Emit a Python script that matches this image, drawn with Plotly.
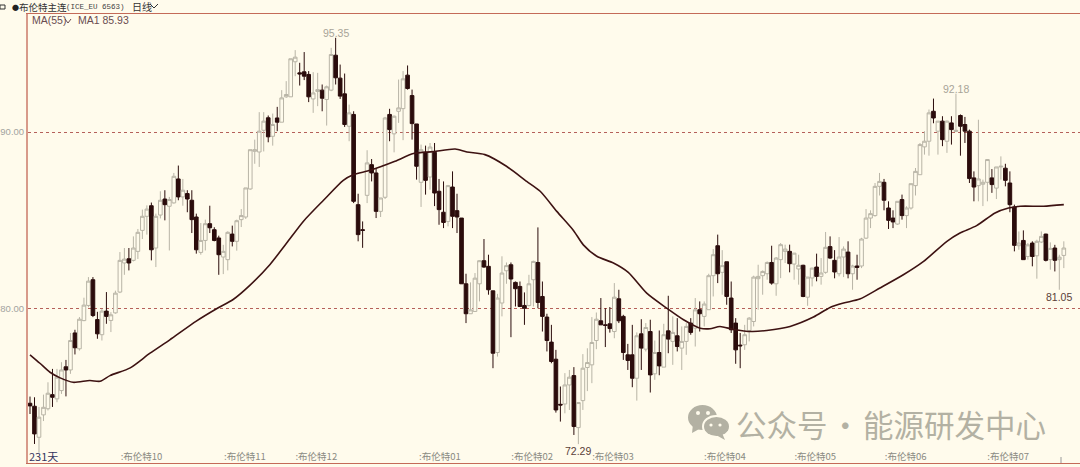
import plotly.graph_objects as go

open_ = [74.61,74.44,72.68,73.95,74.3,75.1,74.86,75.33,76.68,76.5,
78.6,77.7,79.3,80.16,81.62,79.36,78.5,79.84,79.31,79.74,
80.92,82.57,82.81,82.72,83.23,84.42,85.22,85.82,83.42,85.29,
86.2,85.79,85.98,87.34,86.32,86.51,86.13,85.18,83.17,83.85,
84.8,84.46,83.99,82.91,82.76,84.21,83.8,85.03,85.18,86.77,
88.91,88.87,90.1,90.81,89.76,90.8,90.56,92.0,92.0,93.99,
93.36,93.42,93.27,91.88,92.3,92.38,91.85,92.38,94.36,93.06,
92.17,90.33,91.0,85.88,84.46,86.41,88.15,87.68,85.5,86.3,
91.0,89.9,91.18,91.33,93.23,92.07,90.46,87.15,88.85,87.45,
88.85,86.64,85.45,84.93,86.88,85.54,85.12,81.39,79.69,79.82,
81.39,82.7,82.38,80.99,77.49,80.3,82.13,82.47,81.47,81.24,
80.16,80.16,81.62,82.6,80.67,79.5,78.08,77.11,74.55,74.57,
75.65,76.18,73.23,74.76,76.64,76.79,78.17,79.29,79.06,79.12,
78.68,80.54,79.54,77.36,77.36,76.03,78.55,77.68,78.68,76.28,
77.49,76.66,78.72,78.12,78.44,77.74,78.12,79.16,78.87,79.92,
79.54,79.92,81.85,83.55,82.04,82.64,80.58,79.16,77.91,77.93,
78.74,79.25,81.68,81.85,81.96,82.6,81.39,82.76,83.23,83.23,
82.51,82.23,82.44,80.63,81.72,82.34,81.81,82.04,83.5,82.72,
81.96,82.91,83.19,81.96,82.4,82.4,83.98,85.12,85.26,86.92,
87.15,85.69,85.12,84.78,86.17,85.26,85.69,86.96,87.58,89.16,
89.48,91.18,90.05,90.62,89.48,90.52,90.03,90.94,90.43,90.05,
87.4,86.96,87.04,87.15,87.4,86.82,88.02,87.95,87.11,85.75,
83.55,83.85,82.94,83.7,82.98,83.76,84.21,82.76,83.42,82.76,83.0]

high = [74.99,74.95,74.4,75.1,75.8,76.56,76.56,76.94,77.07,78.6,
78.78,79.5,80.6,81.77,81.77,79.8,79.97,80.92,79.78,81.0,
83.19,83.42,83.42,84.08,84.5,85.6,85.84,86.0,85.37,86.64,
86.7,86.32,87.68,88.1,87.34,86.7,86.7,85.37,84.84,85.03,
85.82,84.6,84.12,83.6,84.37,84.69,85.03,85.63,86.83,89.0,
89.57,91.13,91.13,90.94,91.05,91.43,92.38,92.89,94.16,94.65,
93.93,94.54,93.46,93.4,93.36,92.7,92.64,94.78,95.35,93.83,
93.32,91.56,91.18,86.5,84.93,88.97,88.47,87.96,86.26,90.86,
91.32,90.94,92.98,93.46,93.78,92.41,90.46,89.29,89.23,89.38,
89.38,87.34,87.2,87.0,87.77,86.5,85.12,81.96,81.47,82.0,
82.72,83.93,83.04,81.0,80.82,82.95,82.6,82.6,81.52,81.52,
80.9,81.9,82.7,84.59,81.52,79.69,79.06,77.64,75.56,76.32,
76.5,76.66,74.65,77.4,77.73,79.5,79.76,80.58,80.0,80.07,
81.43,81.05,79.63,77.98,79.06,78.63,79.38,79.16,79.35,78.17,
78.74,79.12,80.71,79.54,79.44,78.97,79.16,79.44,80.58,80.39,
80.39,81.96,83.36,84.18,83.3,82.64,81.52,79.44,78.6,79.06,
79.5,81.85,82.47,82.15,82.66,83.55,82.91,83.7,83.61,83.61,
83.13,83.04,82.47,81.77,82.3,83.1,82.85,84.33,84.08,83.3,
84.04,83.51,83.8,82.47,83.04,84.0,85.63,85.56,87.11,87.68,
87.34,86.07,85.56,86.07,86.45,85.79,87.07,87.96,89.38,90.05,
91.28,91.9,90.62,90.9,90.65,90.9,92.18,91.0,90.86,90.14,
87.77,90.7,87.3,88.47,87.9,88.02,88.62,88.2,87.77,85.88,
84.36,84.42,83.7,83.8,83.89,84.36,84.23,83.74,83.6,83.04,83.8]

low = [74.0,72.3,71.8,73.6,74.2,74.4,74.67,75.14,75.0,76.28,
77.38,77.6,79.27,80.06,79.5,78.27,78.17,79.12,78.65,79.69,
80.86,81.9,82.15,82.66,82.8,83.93,84.18,82.72,82.34,85.1,
84.99,83.28,85.94,86.13,85.82,85.45,84.27,83.1,83.04,83.28,
84.27,83.8,81.9,81.94,82.15,83.51,83.27,84.61,85.07,86.73,
88.2,88.02,88.9,89.42,89.23,90.05,90.56,91.94,92.0,93.17,
92.64,92.95,91.7,91.09,91.47,91.18,90.37,92.32,92.7,91.88,
90.29,89.48,85.97,83.8,83.43,85.97,87.2,85.12,85.18,86.2,
89.48,88.85,90.52,89.54,92.41,89.57,87.3,85.75,86.45,86.73,
85.8,84.74,84.55,84.65,84.55,84.27,81.39,79.16,79.69,79.82,
80.39,82.3,80.77,76.6,77.26,79.54,81.39,78.36,80.1,80.07,
79.06,80.1,80.1,80.0,78.68,77.55,76.88,74.08,73.57,74.04,
74.23,72.81,72.29,74.23,75.3,75.75,77.68,79.06,77.8,78.62,
78.3,79.16,77.07,76.5,75.52,74.76,76.5,77.55,75.22,75.94,
76.2,76.66,77.45,76.79,77.55,76.5,77.36,78.5,77.83,78.68,
78.97,79.92,80.67,81.43,80.77,80.2,78.6,76.85,76.6,77.64,
78.12,78.97,79.92,80.77,81.62,81.34,80.71,81.71,82.57,82.04,
81.62,81.34,80.63,80.14,81.24,81.53,81.34,81.96,82.8,81.7,
81.81,81.77,81.7,81.05,81.62,82.28,83.93,84.55,85.2,86.4,
85.56,84.5,84.55,84.74,85.03,84.55,85.6,86.4,87.58,88.72,
88.66,90.5,88.72,89.2,88.82,89.29,90.0,88.66,89.38,87.11,
86.07,86.07,85.8,86.07,86.55,86.2,87.3,86.92,85.45,83.23,
83.32,82.76,82.76,82.38,81.68,83.7,82.66,82.19,82.09,81.05,82.28]

close = [74.46,72.87,73.82,74.38,75.18,74.95,76.09,76.5,76.5,78.17,
77.76,79.38,80.18,81.54,79.59,78.55,79.84,79.54,79.63,80.86,
82.72,82.79,82.57,83.42,84.31,85.22,85.63,83.32,85.22,86.13,
85.88,86.17,87.49,86.32,86.7,86.2,85.03,83.32,83.85,84.8,
84.57,83.85,83.04,83.23,84.31,83.8,84.97,85.26,86.83,89.0,
89.0,90.05,90.62,89.73,90.43,90.56,91.94,92.13,94.16,94.25,
93.3,93.17,92.0,92.22,92.41,91.92,92.57,94.4,93.08,92.04,
90.43,91.09,86.07,84.18,84.42,88.25,87.68,85.5,86.26,90.8,
90.14,90.9,91.37,93.02,92.47,90.48,88.06,89.0,87.26,89.15,
86.54,85.6,84.87,86.96,85.22,85.18,81.39,79.69,79.91,81.71,
82.7,82.34,81.05,77.45,80.58,82.0,82.42,81.66,81.11,80.1,
80.0,81.39,82.66,80.33,79.54,78.17,76.98,74.23,74.51,75.65,
76.09,73.29,74.65,76.6,76.92,78.06,79.38,79.06,79.03,78.85,
80.63,79.29,77.49,77.04,76.03,78.44,77.74,78.91,76.22,77.49,
76.73,78.5,78.25,78.63,77.83,78.12,78.97,78.63,79.91,79.69,
80.24,81.85,83.04,81.96,82.42,80.67,78.78,77.64,77.87,78.5,
79.44,81.77,81.81,82.09,82.6,81.43,82.85,83.61,83.36,82.53,
83.13,82.44,80.67,81.77,82.28,81.81,82.0,83.46,82.85,82.06,
82.91,83.36,81.96,82.4,82.32,83.93,85.12,85.37,86.92,87.2,
86.13,84.99,84.9,86.07,85.26,85.69,87.07,87.77,89.29,89.48,
91.09,90.8,90.62,89.57,90.62,90.14,90.1,90.33,90.05,87.36,
86.88,87.34,87.15,88.44,87.02,88.02,88.06,87.26,85.88,83.57,
83.7,82.76,83.6,82.94,83.8,84.08,82.72,83.4,82.72,82.9,83.42]

ma_index = [0,2.2,4.45,6.7,9.6,13.3,15.6,17.8,22.3,26.7,31.1,37,41.5,45.2,48.9,53.4,
57.1,60.8,65.3,69.7,71.9,75.7,81.2,85.3,89.7,94.6,97.2,101.2,106,110.5,113.5,
117.2,120.9,123.1,126.1,129.8,133.1,137.2,141.7,145.4,149.1,151.3,153.5,156.5,160.6,163.9,
169.1,174.3,178,181,184.6,189.1,194.3,198.8,204,206.9,210.6,214.7,217.7,220.3,225.5,230]
ma_value = [77.36,76.88,76.37,76.05,75.8,75.9,75.86,76.18,76.62,77.45,78.21,79.27,79.97,80.5,81.3,82.49,
83.7,84.93,86.13,87.26,87.58,87.83,88.34,88.78,88.89,89.04,88.87,88.72,88.06,87.2,86.64,
85.5,84.42,83.6,82.95,82.57,82.04,80.86,80.0,79.35,78.87,78.84,78.97,78.8,78.68,78.74,
78.97,79.5,80.05,80.3,80.52,81.15,81.9,82.66,83.8,84.27,84.69,85.41,85.69,85.79,85.79,85.88]

price_ticks = [80, 90]
price_tick_text = ["80.00", "90.00"]
month_index = [24.8, 47.8, 63.7, 91.2, 111.7, 129.7, 154.6, 174.7, 194.8, 217.6]
month_text = [":布伦特10", ":布伦特11", ":布伦特12", ":布伦特01", ":布伦特02",
              ":布伦特03", ":布伦特04", ":布伦特05", ":布伦特06", ":布伦特07"]
extreme_points = [(68, 95.35, "95.35", "#a8a498", "bottom", -3), (206, 92.18, "92.18", "#a8a498", "bottom", -3),
                  (122, 72.29, "72.29", "#5a4038", "top", 1), (229, 81.05, "81.05", "#5a4038", "top", 1)]

BG = "#fffbec"
CJK = "Noto Sans CJK SC"
SANS = "Liberation Sans"
WM = "#b3b1a3"
W, H = 1080, 467
L, R, T, B = 28, 0, 14, 4


def px(x):
    return (x - L) / (W - L - R)


def py(y):
    return 1 - (y - T) / (H - T - B)


fig = go.Figure()
fig.add_trace(go.Candlestick(
    x=list(range(len(open_))), open=open_, high=high, low=low, close=close,
    increasing=dict(line=dict(color="#b8b4a6", width=1), fillcolor=BG),
    decreasing=dict(line=dict(color="#2b0c0c", width=1), fillcolor="#2b0c0c"),
    whiskerwidth=0, hoverinfo="skip", showlegend=False))
fig.add_trace(go.Scatter(x=ma_index, y=ma_value, mode="lines",
                         line=dict(color="#3d1212", width=1.6, shape="spline", smoothing=0.7),
                         hoverinfo="skip", showlegend=False))

ann = []
for x, y, t, c, side, sh in extreme_points:
    ann.append(dict(x=x, y=y, xref="x", yref="y", text=t, showarrow=False,
                    font=dict(family=SANS, size=10.5, color=c),
                    yanchor=side, yshift=sh))


def label(x, y, text, color="#4a3a3a", size=10.5, family=CJK):
    ann.append(dict(x=px(x), y=py(y), xref="paper", yref="paper", xanchor="left", yanchor="middle",
                    text=text, showarrow=False, font=dict(family=family, size=size, color=color),
                    borderpad=0))


label(11, 6.5, "●", "#222222", 7)
label(18, 6.5, "布伦特主连", "#333333", 9.5)
label(65, 6.5, "(ICE_EU 6563)", "#444444", 7.5, "Liberation Mono")
label(131, 6.5, "日线", "#333333", 10)
label(31, 20.5, "MA(55)", "#6a4c50", 10.5, SANS)
label(77, 20.5, "MA1 85.93", "#6a4c50", 10.5, SANS)
label(28, 456, "231天", "#34345e", 11)
label(735, 424, "公众号", WM, 30.5)
label(829, 424, "·", WM, 30.5)
label(862, 424, "能源研发中心", WM, 30.5)

chev = [(150, 4, 154, 8, 158, 4, "#333333"), (65, 19, 68, 23, 71, 19, "#6a4c50")]
shapes = [dict(type="path", xref="paper", yref="paper",
               path=f"M{px(a)},{py(b)} L{px(c)},{py(d)} L{px(e)},{py(f)}",
               line=dict(color=col, width=1), layer="above") for a, b, c, d, e, f, col in chev]
shapes.append(dict(type="rect", xref="paper", yref="paper", x0=px(0), x1=px(5), y0=py(5), y1=py(9),
                   line=dict(color="#333333", width=1), layer="above"))
shapes.append(dict(type="line", xref="paper", yref="paper", x0=px(1061), x1=px(1061), y0=py(457), y1=py(463),
                   line=dict(color="#999999", width=1), layer="above"))


def oval(x0, y0, x1, y1, color):
    shapes.append(dict(type="circle", xref="paper", yref="paper", x0=px(x0), x1=px(x1), y0=py(y0), y1=py(y1),
                       fillcolor=color, line=dict(width=0), layer="above"))


def tail(a, b, c, d, e, f):
    shapes.append(dict(type="path", xref="paper", yref="paper",
                       path=f"M{px(a)},{py(b)} L{px(c)},{py(d)} L{px(e)},{py(f)} Z",
                       fillcolor=WM, line=dict(width=0), layer="above"))


oval(688, 405, 717, 430, WM)
tail(693, 424, 692, 433, 701, 428)
oval(702, 415, 730, 438, BG)
oval(704, 417, 729, 436, WM)
tail(722, 433, 725, 440, 716, 435)
for a, b, r_ in [(698, 413, 2), (708, 413, 2), (711, 425, 1.6), (720, 425, 1.6)]:
    oval(a - r_, b - r_, a + r_, b + r_, BG)

fig.update_layout(
    width=W, height=H, margin=dict(l=L, r=R, t=T, b=B, pad=0, autoexpand=False),
    paper_bgcolor=BG, plot_bgcolor=BG, boxgap=0.1, boxgroupgap=0.1,
    xaxis=dict(range=[-0.445, 233.6], rangeslider=dict(visible=False), showgrid=False, zeroline=False,
               automargin=False, tickmode="array", tickvals=month_index, ticktext=month_text, ticks="",
               ticklabelposition="inside", tickfont=dict(family=CJK, size=9.5, color="#8a8a82"),
               showline=True, mirror=True, linecolor="#c46a58", linewidth=1.2),
    yaxis=dict(range=[71.22, 96.70], showgrid=True, griddash="dot", gridcolor="#b5605a", gridwidth=1, zeroline=False,
               automargin=False, tickmode="array", tickvals=price_ticks, ticktext=price_tick_text, ticks="",
               tickfont=dict(family=SANS, size=9.5, color="#a3a3a0"),
               showline=True, linecolor="#d89a8a", linewidth=2),
    annotations=ann, shapes=shapes, hovermode=False)

fig.write_html("out.html", config=dict(displayModeBar=False, responsive=False),
               post_script="document.body.style.margin='0';document.body.style.background='" + BG + "';")
